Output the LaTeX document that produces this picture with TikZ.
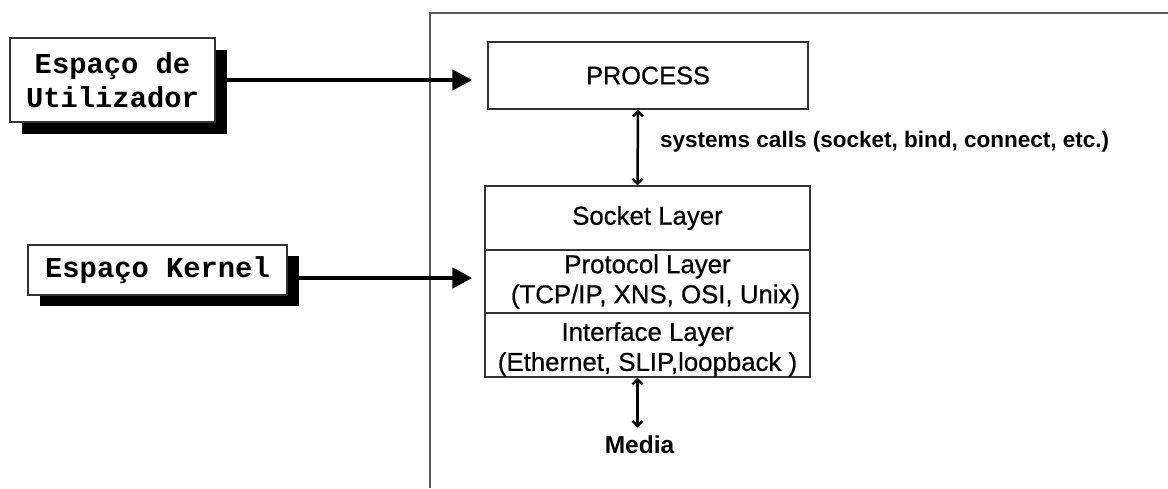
\documentclass[tikz,border=0pt]{standalone}
\usepackage{fontspec}
\setmainfont{Liberation Sans}
\setmonofont{Liberation Mono}
\newfontfamily\medsans{Liberation Sans}[FakeBold=0.6]
\usetikzlibrary{arrows.meta,calc}

\tikzset{
  frameline/.style={draw=black!65, line width=1.3pt},
  labelbox/.style={draw=black!80, line width=1.2pt, fill=white, inner sep=0pt,
    align=center, font=\ttfamily\bfseries\fontsize{28.8}{34}\selectfont},
  boxshadow/.style={fill=black, draw=none, inner sep=0pt},
  procbox/.style={draw=black!80, line width=1.2pt, inner sep=0pt,
    font=\medsans\fontsize{25.3}{30}\selectfont},
  layerbox/.style={draw=black!80, line width=1.2pt, inner sep=0pt,
    minimum width=325pt, align=center, font=\medsans\fontsize{25.8}{30}\selectfont},
  bigarrow/.style={line width=4pt, -{Triangle[length=20pt,width=20pt]}},
  dblarrow/.style={line width=2.5pt,
    {Straight Barb[length=5pt,width=10pt]}-{Straight Barb[length=5pt,width=10pt]}},
  boldlabel/.style={inner sep=0pt, font=\bfseries\fontsize{22.5}{27}\selectfont},
}

\begin{document}
\begin{tikzpicture}[x=1pt,y=-1pt]
\useasboundingbox (0,0) rectangle (1168,488);

% kernel frame, open to the right and at the bottom
\draw[frameline] (1168,13) -- (430,13) -- (430,488);

% user-space and kernel-space labels with drop shadows
\node[boxshadow, minimum width=205pt, minimum height=84pt] (usrshadow) at (124,92) {};
\node[labelbox, minimum width=205pt, minimum height=84pt] (usr) at (112.5,80) {Espaço de\\Utilizador};

\node[boxshadow, minimum width=259pt, minimum height=50pt] (krnshadow) at (169,281) {};
\node[labelbox, minimum width=259pt, minimum height=50pt] (krn) at (157.5,270) {Espaço Kernel};

% process and the layer stack
\node[procbox, minimum width=320pt, minimum height=67pt] (process) at (648,75.5) {PROCESS};

\node[layerbox, minimum height=64pt] (socket) at (647.5,218) {Socket Layer};
\node[layerbox, minimum height=63pt] (protocol) at (647.5,281.5)
  {Protocol Layer\\\hspace*{16pt}(TCP/IP, XNS, OSI, Unix)};
\node[layerbox, minimum height=64pt] (interface) at (647.5,345)
  {\rule{0pt}{27pt}Interface Layer\\(Ethernet, SLIP,loopback )};

% pointers from the labels
\coordinate (usrtip) at ($(process.west)+(-15,0)$);
\draw[bigarrow] (usrshadow.east |- usr.east) -- (usrtip |- usr.east);

\coordinate (krnfrom) at ($(krnshadow.east)+(0,-3)$);
\coordinate (krntip) at ($(protocol.west)+(-12,0)$);
\draw[bigarrow] (krnfrom) -- (krntip |- krnfrom);

% system calls between process and socket layer
\draw[dblarrow] ($(process.south)+(-10,0)$) -- ($(socket.north)+(-10,0)$);
\node[boldlabel, anchor=west] (syscalls) at (660,142)
  {systems calls (socket, bind, connect, etc.)};

% media below the interface layer
\node[boldlabel, anchor=north, font=\bfseries\fontsize{24.5}{29}\selectfont] (media)
  at ($(interface.south)+(-8,58)$) {Media};
\draw[dblarrow] ($(interface.south)+(-10,0)$) -- ($(media.north)+(-2,-8)$);
\end{tikzpicture}
\end{document}
